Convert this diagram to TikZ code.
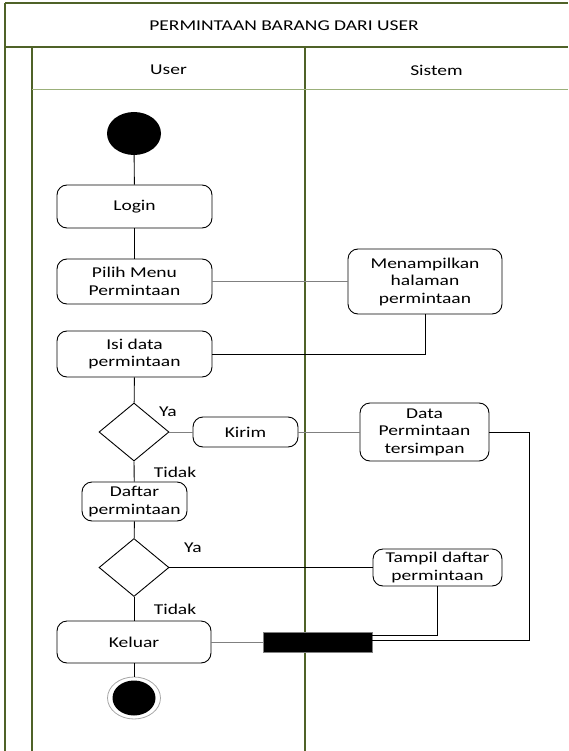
\documentclass[tikz,border=0pt]{standalone}
\usepackage{fontspec}
\setmainfont{Carlito}[FakeStretch=1.3]
\usetikzlibrary{shapes.geometric,calc}
\definecolor{laneline}{HTML}{4F6228}
\definecolor{lanelight}{HTML}{9BB07A}
\definecolor{wiregray}{HTML}{808080}
\begin{document}
\begin{tikzpicture}[x=1pt,y=-1pt,
  every node/.style={font=\fontsize{15}{17.5}\selectfont},
  act/.style={draw, rounded corners=10pt, line width=0.9pt, align=center, inner sep=0pt},
  dec/.style={draw, shape=diamond, line width=0.9pt, inner sep=0pt, minimum width=70pt, minimum height=58pt},
  lbl/.style={inner sep=0pt},
  frame/.style={draw=laneline, line width=1.2pt},
  framelight/.style={draw=lanelight, line width=1pt},
  wire/.style={draw=black, line width=0.9pt},
  wireg/.style={draw=wiregray, line width=1pt}]
\useasboundingbox (0,0) rectangle (568,751);

% swimlane frame
\draw[frame] (5,3) -- (568,3);
\draw[frame] (5,3) -- (5,751);
\draw[frame] (5,47) -- (568,47);
\draw[frame] (32,47) -- (32,751);
\draw[frame] (305,47) -- (305,751);
\draw[framelight] (32,90) -- (568,90);

\node (title) at (284,26) {PERMINTAAN BARANG DARI USER};
\node (userhd) at (168.5,70) {User};
\node (sishd) at (436.5,70) {Sistem};

% initial state
\node[shape=ellipse, fill=black, minimum width=54pt, minimum height=43pt, inner sep=0pt] (start) at (134,133.5) {};

% activities
\node[act, minimum width=155pt, minimum height=43pt] (login) at (134.5,206.5) {Login};
\node[act, minimum width=155pt, minimum height=45pt] (pilih) at (134.5,281.5) {Pilih Menu\\Permintaan};
\node[act, minimum width=154pt, minimum height=65pt] (tampilkan) at (425,281.5) {Menampilkan\\halaman\\permintaan};
\node[act, minimum width=155pt, minimum height=46pt] (isi) at (134.5,354) {Isi data\\permintaan};
\node[dec] (d1) at (134,432) {};
\node[act, minimum width=105pt, minimum height=30pt] (kirim) at (245.5,432) {Kirim};
\node[act, minimum width=129pt, minimum height=58pt] (simpan) at (424.5,432) {Data\\Permintaan\\tersimpan};
\node[act, minimum width=105pt, minimum height=39pt] (daftar) at (134.5,501.5) {Daftar\\permintaan};
\node[dec] (d2) at (134,567.5) {};
\node[act, minimum width=129pt, minimum height=37pt] (tampil) at (437.5,567.5) {Tampil daftar\\permintaan};
\node[act, minimum width=154pt, minimum height=42pt] (keluar) at (134,642) {Keluar};

% join bar
\node[draw=wiregray, fill=black, line width=0.8pt, minimum width=109pt, minimum height=20pt, inner sep=0pt] (bar) at (317.5,642) {};

% final state
\node[shape=ellipse, draw=black!35, line width=0.8pt, minimum width=53pt, minimum height=42pt, inner sep=0pt] (fin) at (134,698) {};
\node[shape=ellipse, fill=black, minimum width=43pt, minimum height=35pt, inner sep=0pt] (fincore) at (134,698) {};

% guard labels
\node[lbl] (ya1) at (168,412) {Ya};
\node[lbl] (tidak1) at (175,472) {Tidak};
\node[lbl] (ya2) at (193,548) {Ya};
\node[lbl] (tidak2) at (175,609) {Tidak};

% flows
\draw[wire] (start) -- (login);
\draw[wire] (login) -- (pilih);
\draw[wireg] (pilih) -- (tampilkan);
\draw[wire] (tampilkan.south) |- (isi.east);
\draw[wire] (isi) -- (d1);
\draw[wireg] (d1.east) -- (kirim.west);
\draw[wireg] (kirim) -- (simpan);
\draw[wire] (d1.south) -- (daftar);
\draw[wire] (daftar) -- (d2);
\draw[wire] (d2.east) -- (tampil.west);
\draw[wire] (d2.south) -- (keluar);
\draw[wireg] (keluar) -- (bar);
\draw[wire] (keluar) -- (fin);
\draw[wire] (tampil.south) |- ([yshift=7pt]bar.east);
\draw[wire] (simpan.east) -- ++(40,0) |- ([yshift=2pt]bar.east);
\end{tikzpicture}
\end{document}
